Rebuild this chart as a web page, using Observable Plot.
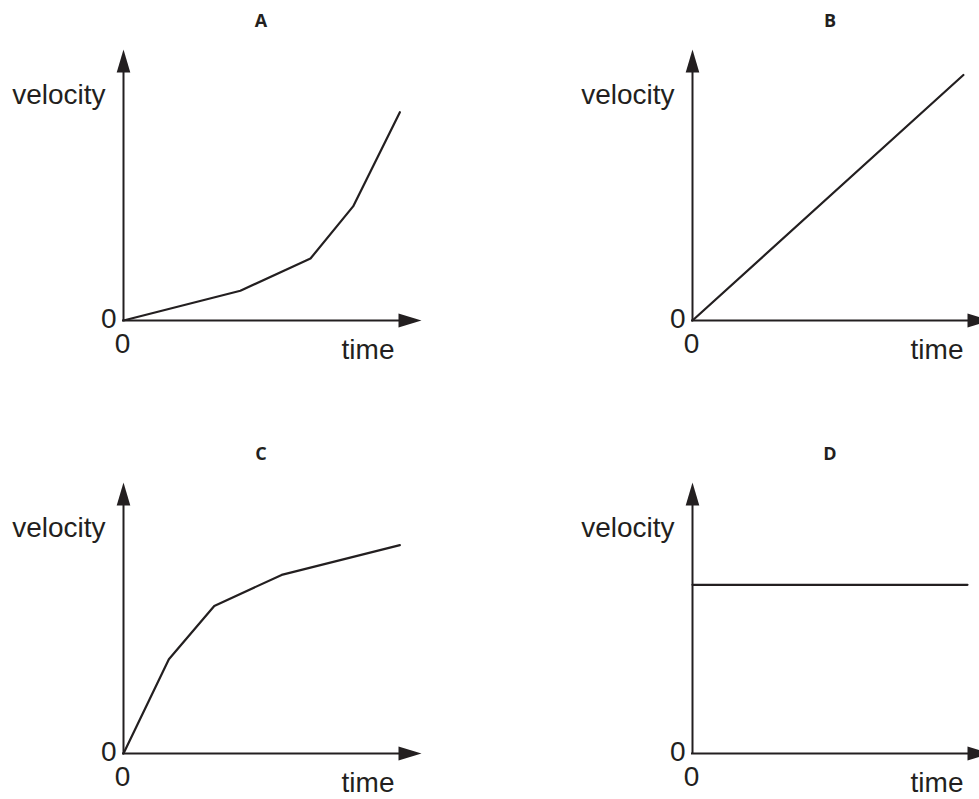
<!DOCTYPE html>
<html>
<head>
<meta charset="utf-8">
<script src="https://cdn.jsdelivr.net/npm/d3@7"></script>
<script src="https://cdn.jsdelivr.net/npm/@observablehq/plot@0.6"></script>
<style>
  body { margin: 0; background: #ffffff; }
  #chart { position: relative; width: 979px; height: 799px; overflow: hidden; background: #ffffff; }
  #chart > svg { position: absolute; }
</style>
</head>
<body>
<div id="chart"></div>
<script>
// ---- data ----
const panelNames = ["A", "B", "C", "D"];

const timeA = [0, 4.25, 6.8, 8.35, 10.05];
const velocityA = [0, 1.2, 2.5, 4.6, 8.4];

const timeB = [0, 9.85];
const velocityB = [0, 9.9];

const timeC = [0, 1.65, 3.3, 5.75, 10.05];
const velocityC = [0, 3.8, 5.95, 7.2, 8.4];

const timeD = [0, 10];
const velocityD = [6.8, 6.8];

const timeDomain = [0, 10];
const velocityDomain = [0, 10];

const xTitle = "time";
const yTitle = "velocity";
const originLabel = "0";

// ---- build ----
const seriesTime = [timeA, timeB, timeC, timeD];
const seriesVelocity = [velocityA, velocityB, velocityC, velocityD];

const ink = "#231f20";
const bodyFont = "'Liberation Sans', Arial, Helvetica, sans-serif";
const titleFont = "'Open Sans', 'Noto Sans', sans-serif";

const arrowUp = {draw(ctx) { ctx.moveTo(0, -23); ctx.lineTo(6.8, 0); ctx.lineTo(-6.8, 0); ctx.closePath(); }};
const arrowRight = {draw(ctx) { ctx.moveTo(23, 0); ctx.lineTo(0, 7); ctx.lineTo(0, -7); ctx.closePath(); }};

const chart = document.getElementById("chart");
const tMid = (timeDomain[0] + timeDomain[1]) / 2;

panelNames.forEach((name, i) => {
  const pts = seriesTime[i].map((t, j) => ({t, v: seriesVelocity[i][j]}));
  const col = i % 2, row = Math.floor(i / 2);
  const svg = Plot.plot({
    width: 430,
    height: 370,
    marginLeft: 123,
    marginRight: 32,
    marginTop: 72,
    marginBottom: 50,
    style: {background: "transparent", overflow: "visible"},
    x: {domain: timeDomain, axis: null},
    y: {domain: velocityDomain, axis: null},
    marks: [
      Plot.ruleY([velocityDomain[0]], {stroke: ink, strokeWidth: 2, strokeLinecap: "square"}),
      Plot.ruleX([timeDomain[0]], {stroke: ink, strokeWidth: 2, strokeLinecap: "square"}),
      Plot.dot([0], {x: timeDomain[1], y: velocityDomain[0], symbol: arrowRight, fill: ink, stroke: "none"}),
      Plot.dot([0], {x: timeDomain[0], y: velocityDomain[1], symbol: arrowUp, fill: ink, stroke: "none"}),
      Plot.line(pts, {x: "t", y: "v", stroke: ink, strokeWidth: 2.2, strokeLinejoin: "miter"}),
      Plot.text([name], {x: tMid, y: velocityDomain[1], text: d => d, dy: -46, lineAnchor: "bottom",
        fontFamily: titleFont, fontWeight: "bold", fontSize: 18, fill: ink}),
      Plot.text([yTitle], {x: timeDomain[0], y: velocityDomain[1], text: d => d, dx: -18, dy: 31,
        textAnchor: "end", lineAnchor: "bottom", fontFamily: bodyFont, fontSize: 28, fill: ink}),
      Plot.text([originLabel], {x: timeDomain[0], y: velocityDomain[0], text: d => d, dx: -7, dy: 7,
        textAnchor: "end", lineAnchor: "bottom", fontFamily: bodyFont, fontSize: 28, fill: ink}),
      Plot.text([originLabel], {x: timeDomain[0], y: velocityDomain[0], text: d => d, dx: -1, dy: 32,
        textAnchor: "middle", lineAnchor: "bottom", fontFamily: bodyFont, fontSize: 28, fill: ink}),
      Plot.text([xTitle], {x: timeDomain[1], y: velocityDomain[0], text: d => d, dx: -4, dy: 38,
        textAnchor: "end", lineAnchor: "bottom", fontFamily: bodyFont, fontSize: 28, fill: ink})
    ]
  });
  svg.style.left = (col * 569) + "px";
  svg.style.top = (row * 433) + "px";
  chart.appendChild(svg);
});
</script>
</body>
</html>
